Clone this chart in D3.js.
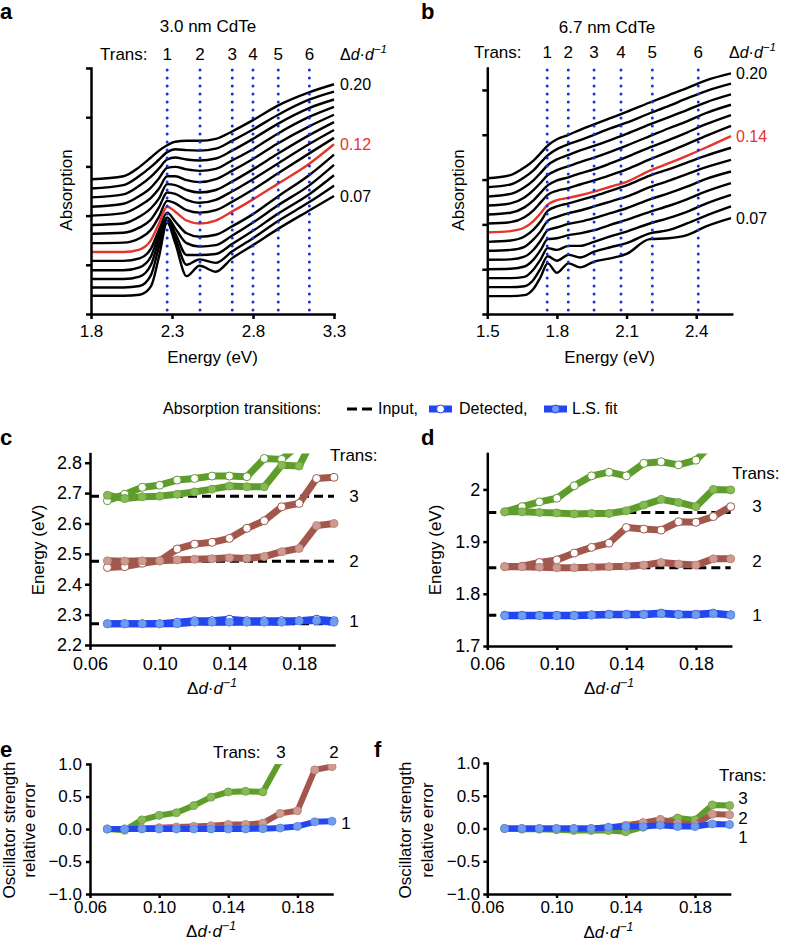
<!DOCTYPE html>
<html><head><meta charset="utf-8">
<script src="https://cdn.jsdelivr.net/npm/d3@7/dist/d3.min.js"></script>
<style>html,body{margin:0;padding:0;background:#fff}</style>
</head><body>
<svg id="fig" width="788" height="946" xmlns="http://www.w3.org/2000/svg"></svg>
<script>
// ---------------- DATA ----------------
const deltaD = [0.07,0.08,0.09,0.10,0.11,0.12,0.13,0.14,0.15,0.16,0.17,0.18,0.19,0.20];

// panel a: 3.0 nm CdTe absorption spectra (offset curves, a.u.)
const energyA = [1.80,2.00,2.10,2.17,2.22,2.27,2.32,2.39,2.47,2.57,2.67,2.80,2.95,3.15,3.30];
const absA = [
 [0.37,0.37,0.39,0.56,1.17,1.86,1.44,0.77,0.98,0.86,1.13,1.40,1.72,2.11,2.40],
 [0.54,0.54,0.57,0.79,1.37,1.87,1.54,1.00,1.11,1.04,1.27,1.54,1.88,2.28,2.61],
 [0.71,0.71,0.76,1.00,1.50,1.90,1.64,1.20,1.20,1.22,1.42,1.69,2.03,2.44,2.82],
 [0.89,0.89,0.95,1.17,1.61,1.96,1.74,1.44,1.37,1.40,1.59,1.86,2.20,2.62,3.03],
 [1.08,1.08,1.13,1.33,1.71,2.06,1.88,1.64,1.57,1.61,1.78,2.03,2.38,2.83,3.24],
 [1.26,1.26,1.31,1.50,1.84,2.18,2.08,1.90,1.84,1.90,2.08,2.33,2.64,3.06,3.45],
 [1.44,1.45,1.54,1.71,1.98,2.30,2.25,2.11,2.06,2.11,2.28,2.53,2.85,3.27,3.58],
 [1.63,1.65,1.76,1.92,2.17,2.47,2.44,2.32,2.26,2.32,2.49,2.74,3.05,3.46,3.74],
 [1.81,1.84,1.98,2.15,2.35,2.64,2.62,2.52,2.47,2.52,2.69,2.94,3.25,3.64,3.90],
 [2.00,2.05,2.20,2.36,2.55,2.80,2.80,2.72,2.68,2.74,2.91,3.15,3.46,3.82,4.05],
 [2.18,2.24,2.40,2.57,2.76,2.97,2.99,2.94,2.91,2.95,3.12,3.35,3.66,4.01,4.21],
 [2.37,2.43,2.61,2.79,2.96,3.14,3.18,3.14,3.12,3.16,3.32,3.56,3.86,4.19,4.36],
 [2.55,2.62,2.81,2.99,3.14,3.29,3.35,3.33,3.32,3.36,3.52,3.75,4.04,4.36,4.52],
 [2.74,2.80,2.99,3.18,3.32,3.43,3.50,3.52,3.52,3.56,3.71,3.94,4.23,4.51,4.67]
];
const transA = [2.27,2.473,2.672,2.80,2.956,3.148];
const xTicksA = [1.8,2.3,2.8,3.3];

// panel b: 6.7 nm CdTe
const energyB = [1.50,1.60,1.66,1.70,1.73,1.76,1.80,1.85,1.90,1.96,2.03,2.10,2.20,2.28,2.36,2.44,2.55];
const absB = [
 [0.40,0.40,0.42,0.57,0.83,1.13,0.92,1.13,1.04,1.17,1.24,1.34,1.67,1.69,1.76,1.95,2.14],
 [0.60,0.60,0.62,0.77,1.02,1.29,1.19,1.32,1.26,1.39,1.49,1.58,1.80,1.87,2.02,2.19,2.40],
 [0.80,0.80,0.83,1.00,1.22,1.47,1.43,1.52,1.52,1.61,1.73,1.84,2.02,2.14,2.28,2.46,2.66],
 [1.00,1.01,1.06,1.22,1.43,1.67,1.69,1.76,1.80,1.87,1.99,2.10,2.28,2.41,2.56,2.73,2.92],
 [1.21,1.22,1.28,1.44,1.64,1.87,1.93,2.01,2.06,2.14,2.25,2.36,2.56,2.69,2.84,3.01,3.18],
 [1.41,1.43,1.50,1.67,1.85,2.08,2.17,2.25,2.31,2.40,2.51,2.62,2.83,2.97,3.12,3.27,3.44],
 [1.61,1.64,1.73,1.89,2.07,2.30,2.40,2.47,2.54,2.63,2.75,2.87,3.09,3.23,3.38,3.53,3.71],
 [1.82,1.85,1.93,2.08,2.25,2.44,2.54,2.59,2.65,2.73,2.84,2.95,3.20,3.36,3.53,3.71,3.97],
 [2.02,2.05,2.16,2.32,2.49,2.66,2.75,2.81,2.89,2.98,3.10,3.23,3.45,3.62,3.79,3.97,4.20],
 [2.22,2.26,2.38,2.54,2.71,2.87,2.98,3.05,3.14,3.23,3.36,3.50,3.72,3.88,4.05,4.23,4.44],
 [2.42,2.47,2.60,2.77,2.93,3.10,3.21,3.30,3.39,3.49,3.62,3.76,3.97,4.14,4.30,4.48,4.67],
 [2.62,2.68,2.83,2.99,3.15,3.32,3.45,3.55,3.65,3.75,3.88,4.02,4.23,4.39,4.55,4.72,4.90],
 [2.83,2.89,3.05,3.21,3.38,3.54,3.68,3.79,3.88,4.00,4.14,4.27,4.48,4.64,4.81,4.97,5.14],
 [3.03,3.10,3.27,3.43,3.59,3.76,3.90,4.00,4.11,4.23,4.37,4.51,4.72,4.88,5.04,5.21,5.37]
];
const transB = [1.758,1.849,1.960,2.076,2.211,2.409];
const xTicksB = [1.5,1.8,2.1,2.4];

// panel c: transition energies (eV), 3.0 nm
const inputC = [2.27,2.476,2.69];
const detC1 = [2.27,2.27,2.27,2.27,2.275,2.28,2.28,2.285,2.28,2.28,2.28,2.28,2.285,2.28];
const lsC1  = [2.27,2.27,2.27,2.27,2.27,2.275,2.275,2.275,2.275,2.275,2.275,2.28,2.28,2.275];
const detC2 = [2.455,2.458,2.469,2.477,2.516,2.532,2.538,2.551,2.584,2.609,2.655,2.666,2.748,2.752];
const lsC2  = [2.477,2.476,2.477,2.477,2.480,2.482,2.484,2.487,2.485,2.491,2.507,2.518,2.593,2.600];
const detC3 = [2.675,2.696,2.719,2.726,2.743,2.748,2.756,2.756,2.754,2.814,2.811,2.86,null,null];
const lsC3  = [2.693,2.682,2.688,2.690,2.696,2.704,2.713,2.723,2.721,2.721,2.792,2.789,2.90,null];

// panel d: transition energies (eV), 6.7 nm
const inputD = [1.759,1.85,1.956];
const detD1 = [1.759,1.759,1.759,1.759,1.759,1.760,1.761,1.761,1.761,1.763,1.761,1.761,1.763,1.760];
const lsD1  = [1.758,1.758,1.758,1.758,1.758,1.759,1.760,1.760,1.760,1.762,1.760,1.760,1.762,1.759];
const detD2 = [1.852,1.853,1.860,1.865,1.878,1.889,1.897,1.927,1.924,1.922,1.938,1.937,1.948,1.967];
const lsD2  = [1.852,1.852,1.851,1.850,1.850,1.851,1.852,1.853,1.855,1.860,1.857,1.855,1.867,1.867];
const detD3 = [1.957,1.967,1.976,1.983,2.007,2.026,2.033,2.026,2.050,2.053,2.047,2.056,2.09,null];
const lsD3  = [1.957,1.957,1.956,1.955,1.953,1.954,1.954,1.959,1.970,1.981,1.975,1.967,2.000,1.999];

// panel e, f: oscillator strength relative error (L.S. fit)
const osE1 = [0,0,0,0,0,0,0,0,0,0.005,0.015,0.04,0.11,0.12];
const osE2 = [0,0,0.01,0.02,0.03,0.04,0.05,0.07,0.07,0.09,0.24,0.28,0.91,0.96];
const osE3 = [0,-0.02,0.14,0.21,0.25,0.36,0.49,0.57,0.58,0.57,1.05,null,null,null];
const osF1 = [0,0,0,0,0,0,0.02,0.03,0.03,0.05,0.03,0.03,0.07,0.06];
const osF2 = [0,0,0,0,0,0,0.015,0.05,0.09,0.14,0.08,0.06,0.22,0.21];
const osF3 = [0,-0.01,-0.01,-0.02,-0.03,-0.03,-0.03,-0.05,0.02,0.08,0.16,0.13,0.36,0.35];

const xTicksDD = [0.06,0.10,0.14,0.18];

// ---------------- STYLE ----------------
const FONT = '"Liberation Sans", Arial, Helvetica, sans-serif';
const RED = "#e3352b", DOT = "#1a30e0";
const C1 = {line:"#2346f0", dot:"#6f9cf3"};
const C2 = {line:"#a2574d", dot:"#cf9a90"};
const C3 = {line:"#5e9c2c", dot:"#86ba54"};

const svg = d3.select("#fig").attr("font-family", FONT);
const defs = svg.append("defs");

function drawAxis(g, axis, tx, ty, fs){
  const a = g.append("g").attr("transform", `translate(${tx},${ty})`).call(axis);
  a.attr("font-family", FONT).attr("font-size", fs);
  a.select(".domain").attr("stroke","#000").attr("stroke-width",2.5).attr("stroke-linecap","square");
  a.selectAll(".tick line").attr("stroke","#000").attr("stroke-width",2.5);
  a.selectAll(".tick text").attr("fill","#000");
  return a;
}
function ddLabel(g, x, y, size, anchor){
  const t = g.append("text").attr("x",x).attr("y",y).attr("font-size",size).attr("text-anchor",anchor);
  t.append("tspan").text("Δ");
  t.append("tspan").attr("font-style","italic").text("d");
  t.append("tspan").text("·");
  t.append("tspan").attr("font-style","italic").text("d");
  t.append("tspan").attr("font-style","italic").attr("font-size",size*0.72).attr("dy",-size*0.42).text("−1");
  return t;
}
function panelLetter(x, y, s){
  svg.append("text").attr("x",x).attr("y",y).attr("font-size",22).attr("font-weight","bold").text(s);
}

// ---------------- SPECTRA PANELS ----------------
function spectra(o){
  const x = d3.scaleLinear().domain(o.xDomain).range(o.xRange);
  const y = d3.scaleLinear().domain(o.yDomain).range([314, 68]);
  const g = svg.append("g");
  const line = d3.line().x((d,i)=>x(o.energy[i])).y(d=>y(d)).curve(d3.curveMonotoneX);
  const ri = deltaD.indexOf(o.redAt);
  o.curves.forEach((c,i)=>{
    if (i===ri) return;
    g.append("path").attr("d", line(c)).attr("fill","none").attr("stroke","#000")
      .attr("stroke-width",2.4).attr("stroke-linejoin","round");
  });
  g.append("path").attr("d", line(o.curves[ri])).attr("fill","none").attr("stroke",RED)
    .attr("stroke-width",2.4).attr("stroke-linejoin","round");
  g.selectAll(null).data(o.trans).enter().append("line")
    .attr("x1",d=>x(d)).attr("x2",d=>x(d)).attr("y1",y(o.yDomain[1])+2).attr("y2",y(0)-2)
    .attr("stroke",DOT).attr("stroke-width",3).attr("stroke-linecap","round").attr("stroke-dasharray","0,8");
  drawAxis(g, d3.axisBottom(x).tickValues(o.xTicks).tickFormat(d3.format(".1f")).tickSize(5).tickSizeOuter(0).tickPadding(6), 0, y(0), 17);
  drawAxis(g, d3.axisLeft(y).tickValues(d3.range(0,6)).tickFormat("").tickSize(5).tickSizeOuter(0), x(o.xDomain[0]), 0, 17);
  g.append("text").attr("x",o.transX).attr("y",o.headY).attr("font-size",17).text("Trans:");
  g.selectAll(null).data(o.trans).enter().append("text").attr("x",d=>x(d)).attr("y",o.headY)
    .attr("text-anchor","middle").attr("font-size",17).text((d,i)=>i+1);
  ddLabel(g, o.ddX, o.headY, 16, "start");
  o.rightLabels.forEach(v=>{
    const c = o.curves[deltaD.indexOf(v)];
    g.append("text").attr("x",o.labX).attr("y",y(c[c.length-1])).attr("dy","0.36em")
      .attr("font-size",16).attr("fill", v===o.redAt?RED:"#000").text(v.toFixed(2));
  });
  g.append("text").attr("x",o.titleX).attr("y",o.titleY).attr("text-anchor","middle").attr("font-size",17).text(o.title);
  g.append("text").attr("transform",`translate(${o.ylabX},190) rotate(-90)`).attr("text-anchor","middle").attr("font-size",17).text("Absorption");
  g.append("text").attr("x",(o.xRange[0]+o.xRange[1])/2).attr("y",363).attr("text-anchor","middle").attr("font-size",17).text("Energy (eV)");
}

spectra({xDomain:[1.8,3.3], xRange:[91,334], yDomain:[0,5], energy:energyA, curves:absA, redAt:0.12,
  trans:transA, xTicks:xTicksA, transX:100, headY:60, ddX:340, labX:340, rightLabels:[0.20,0.12,0.07],
  title:"3.0 nm CdTe", titleX:208, titleY:32, ylabX:72});
spectra({xDomain:[1.5,2.553], xRange:[487.3,731.7], yDomain:[0,5.49], energy:energyB, curves:absB, redAt:0.14,
  trans:transB, xTicks:xTicksB, transX:474, headY:58, ddX:729, labX:736, rightLabels:[0.20,0.14,0.07],
  title:"6.7 nm CdTe", titleX:607, titleY:33, ylabX:464});

panelLetter(0,19,"a"); panelLetter(421,19,"b");

// ---------------- LEGEND ----------------
(function(){
  const lg = svg.append("g").attr("font-size",16);
  lg.append("text").attr("x",163).attr("y",414).text("Absorption transitions:");
  lg.append("line").attr("x1",347).attr("x2",372).attr("y1",409).attr("y2",409)
    .attr("stroke","#000").attr("stroke-width",3).attr("stroke-dasharray","10,5");
  lg.append("text").attr("x",378).attr("y",414).text("Input,");
  [[429,452,"#fff",459,"Detected,"],[544,567,C1.dot,572,"L.S. fit"]].forEach(s=>{
    lg.append("line").attr("x1",s[0]).attr("x2",s[1]).attr("y1",409).attr("y2",409)
      .attr("stroke",C1.line).attr("stroke-width",7);
    lg.append("circle").attr("cx",(s[0]+s[1])/2).attr("cy",409).attr("r",4)
      .attr("fill",s[2]).attr("stroke",C1.line).attr("stroke-width",1);
    lg.append("text").attr("x",s[3]).attr("y",414).text(s[4]);
  });
})();

// ---------------- SERIES PANELS ----------------
let clipN = 0;
function seriesPanel(o){
  const x = d3.scaleLinear().domain([0.06,0.20]).range(o.xRange);
  const y = d3.scaleLinear().domain(o.yDomain).range(o.yRange);
  const g = svg.append("g");
  const id = "clip"+(clipN++);
  defs.append("clipPath").attr("id",id).append("rect")
    .attr("x",o.xRange[0]-12).attr("y",o.yRange[1]).attr("width",o.xRange[1]-o.xRange[0]+30)
    .attr("height",o.yRange[0]-o.yRange[1]+12);
  if (o.input) {
    g.selectAll(null).data(o.input).enter().append("line")
      .attr("x1",x(0.06)).attr("x2",x(0.20)).attr("y1",d=>y(d)).attr("y2",d=>y(d))
      .attr("stroke","#000").attr("stroke-width",3).attr("stroke-dasharray","9,5");
  }
  const pg = g.append("g").attr("clip-path",`url(#${id})`);
  o.series.forEach(s=>{
    const pts = deltaD.map((d,i)=>[d, s.vals[i]]).filter(p=>p[1]!=null);
    pg.append("path").datum(pts).attr("d", d3.line().x(p=>x(p[0])).y(p=>y(p[1])))
      .attr("fill","none").attr("stroke",s.c.line).attr("stroke-width",o.lw)
      .attr("stroke-linejoin","round").attr("stroke-linecap","round");
    pg.selectAll(null).data(pts).enter().append("circle")
      .attr("cx",p=>x(p[0])).attr("cy",p=>y(p[1])).attr("r",4)
      .attr("fill", s.det ? "#fff" : s.c.dot).attr("stroke", s.det ? s.c.line : d3.color(s.c.dot).darker(0.3)).attr("stroke-width",1);
  });
  drawAxis(g, d3.axisBottom(x).tickValues(xTicksDD).tickFormat(d3.format(".2f")).tickSize(o.tick).tickSizeOuter(0).tickPadding(o.xpad), 0, o.yRange[0], o.fs);
  drawAxis(g, d3.axisLeft(y).tickValues(o.yTicks).tickFormat(o.yFmt).tickSize(o.tick).tickSizeOuter(0).tickPadding(o.ypad), o.xRange[0], 0, o.fs);
  ddLabel(g, (o.xRange[0]+o.xRange[1])/2, o.xlabY, 17, "middle");
  o.ylab.forEach((t,i)=>{
    g.append("text").attr("transform",`translate(${o.ylabX[i]},${o.ylabCY}) rotate(-90)`)
      .attr("text-anchor","middle").attr("font-size",17).text(t);
  });
  g.append("text").attr("x",o.transXY[0]).attr("y",o.transXY[1]).attr("font-size",17).text("Trans:");
  o.numLabels.forEach(n=>{
    g.append("text").attr("x",n.x).attr("y", n.v!=null ? y(n.v) : n.y).attr("dy", n.v!=null ? "0.36em" : 0)
      .attr("text-anchor","middle").attr("font-size",17).text(n.t);
  });
}

const f1 = d3.format(".1f");
seriesPanel({xRange:[90,334], yDomain:[2.2,2.83], yRange:[645,453.6], lw:7, tick:5, xpad:7, ypad:3, fs:18,
  yTicks:[2.2,2.3,2.4,2.5,2.6,2.7,2.8], yFmt:f1, input:inputC,
  series:[{vals:detC3,c:C3,det:true},{vals:lsC3,c:C3},{vals:detC2,c:C2,det:true},{vals:lsC2,c:C2},
          {vals:detC1,c:C1,det:true},{vals:lsC1,c:C1}],
  xlabY:694, ylab:["Energy (eV)"], ylabX:[44], ylabCY:550, transXY:[330,461],
  numLabels:[{x:354,v:2.69,t:"3"},{x:354,v:2.476,t:"2"},{x:354,v:2.28,t:"1"}]});
seriesPanel({xRange:[487.3,730.7], yDomain:[1.7,2.069], yRange:[646,453.4], lw:7, tick:4, xpad:7, ypad:3, fs:18,
  yTicks:[1.7,1.8,1.9,2.0], yFmt:d=>String(+d.toFixed(1)), input:inputD,
  series:[{vals:detD3,c:C3,det:true},{vals:lsD3,c:C3},{vals:detD2,c:C2,det:true},{vals:lsD2,c:C2},
          {vals:detD1,c:C1,det:true},{vals:lsD1,c:C1}],
  xlabY:694, ylab:["Energy (eV)"], ylabX:[441], ylabCY:550, transXY:[732,479],
  numLabels:[{x:757,v:1.968,t:"3"},{x:757,v:1.864,t:"2"},{x:757,v:1.760,t:"1"}]});
seriesPanel({xRange:[90,332], yDomain:[-1,1], yRange:[894,764], lw:6, tick:4, xpad:3, ypad:4, fs:17,
  yTicks:[-1,-0.5,0,0.5,1], yFmt:f1,
  series:[{vals:osE3,c:C3},{vals:osE2,c:C2},{vals:osE1,c:C1}],
  xlabY:937, ylab:["Oscillator strength","relative error"], ylabX:[15,35], ylabCY:830, transXY:[213,758],
  numLabels:[{x:281,y:758,t:"3"},{x:334,y:758,t:"2"},{x:346,v:0.10,t:"1"}]});
seriesPanel({xRange:[487.3,729.6], yDomain:[-1,1], yRange:[894,763], lw:6, tick:4, xpad:3, ypad:3, fs:17,
  yTicks:[-1,-0.5,0,0.5,1], yFmt:f1,
  series:[{vals:osF3,c:C3},{vals:osF2,c:C2},{vals:osF1,c:C1}],
  xlabY:938, ylab:["Oscillator strength","relative error"], ylabX:[411,433], ylabCY:830, transXY:[719,781],
  numLabels:[{x:743,v:0.47,t:"3"},{x:743,v:0.16,t:"2"},{x:743,v:-0.13,t:"1"}]});

panelLetter(0,445,"c"); panelLetter(421,445,"d");
panelLetter(0,757,"e"); panelLetter(374,757,"f");
</script>
</body></html>
